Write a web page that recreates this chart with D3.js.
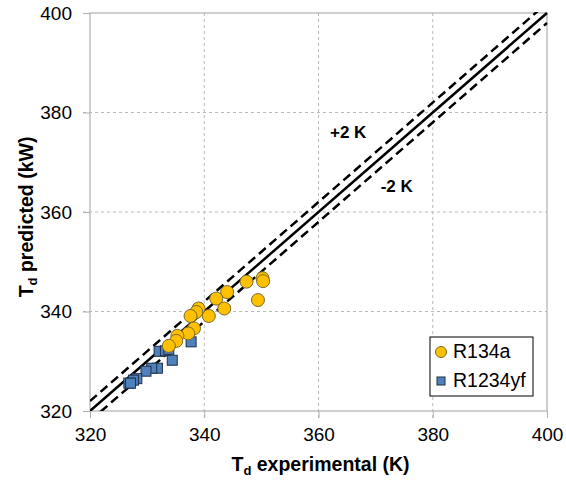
<!DOCTYPE html>
<html>
<head>
<meta charset="utf-8">
<script src="https://cdn.jsdelivr.net/npm/d3@7"></script>
<style>
  body { margin: 0; background: #fff; }
  svg text { font-family: "Liberation Sans", Arial, sans-serif; }
</style>
</head>
<body>
<div id="chart"></div>
<script>
// ---- data ----
const xTicks = [320, 340, 360, 380, 400];
const yTicks = [320, 340, 360, 380, 400];

const r134aExp  = [350.2, 350.3, 347.4, 349.4, 344.0, 342.1, 343.5, 339.0, 338.6, 337.6, 340.8, 338.2, 337.2, 335.3, 335.1, 333.8];
const r134aPred = [346.7, 346.1, 346.0, 342.3, 343.9, 342.6, 340.6, 340.6, 339.9, 339.1, 339.1, 336.6, 335.6, 335.1, 334.1, 333.1];

const r1234yfExp  = [337.7, 332.1, 333.2, 333.8, 334.4, 331.8, 330.8, 329.8, 328.2, 327.6, 326.8, 327.1];
const r1234yfPred = [333.9, 332.0, 332.1, 332.4, 330.2, 328.6, 328.6, 328.0, 326.5, 326.2, 325.6, 325.6];

// parity line and +/- 2 K band, label anchor in data units
const bands = [
  { offset: 2,  label: '+2 K', lx: 365.2, ly: 374.9, dash: '9,5' },
  { offset: 0,  label: null,   lx: 0,     ly: 0,     dash: null },
  { offset: -2, label: '-2 K', lx: 373.7, ly: 364.0, dash: '9,5' }
];

const width = 566, height = 481;
const margin = { left: 90, right: 19, top: 13, bottom: 70 };

const svg = d3.select('#chart').append('svg')
	.attr('width', width)
	.attr('height', height);

const x = d3.scaleLinear().domain([320, 400]).range([margin.left, width - margin.right]);
const y = d3.scaleLinear().domain([320, 400]).range([height - margin.bottom, margin.top]);

// gridlines
const grid = svg.append('g').attr('class', 'grid');
grid.selectAll('line.v')
		.data(xTicks.slice(1, -1))
	.enter().append('line')
		.attr('x1', d => x(d)).attr('x2', d => x(d))
		.attr('y1', y(400)).attr('y2', y(320) + 7)
		.attr('stroke', '#b8b8b8')
		.attr('stroke-dasharray', '3,3');
grid.selectAll('line.h')
		.data(yTicks.slice(1, -1))
	.enter().append('line')
		.attr('x1', x(320) - 7).attr('x2', x(400))
		.attr('y1', d => y(d)).attr('y2', d => y(d))
		.attr('stroke', '#b8b8b8')
		.attr('stroke-dasharray', '3,3');

// frame
svg.append('rect')
	.attr('x', x(320)).attr('y', y(400))
	.attr('width', x(400) - x(320)).attr('height', y(320) - y(400))
	.attr('fill', 'none')
	.attr('stroke', '#b0b0b0')
	.attr('stroke-width', 1.2);

// axes (labels + outer ticks)
const xAxis = svg.append('g')
	.attr('transform', 'translate(0,' + y(320) + ')')
	.call(d3.axisBottom(x).tickValues(xTicks).tickSize(7).tickPadding(10).tickFormat(d3.format('d')));
const yAxis = svg.append('g')
	.attr('transform', 'translate(' + x(320) + ',0)')
	.call(d3.axisLeft(y).tickValues(yTicks).tickSize(7).tickPadding(11).tickFormat(d3.format('d')));
[xAxis, yAxis].forEach(a => {
	a.select('.domain').remove();
	a.selectAll('line').attr('stroke', '#b0b0b0');
	a.selectAll('text').attr('fill', '#000').style('font-size', '19px');
});

// y = x and +/- 2 K lines, clipped to the plot area
svg.append('clipPath').attr('id', 'plotclip')
	.append('rect')
	.attr('x', x(320)).attr('y', y(400) - 1)
	.attr('width', x(400) - x(320) + 1).attr('height', y(320) - y(400) + 1);

const lineGen = d3.line().x(d => x(d[0])).y(d => y(d[1]));
svg.append('g').attr('clip-path', 'url(#plotclip)')
	.selectAll('path')
		.data(bands)
	.enter().append('path')
		.attr('d', b => lineGen([[320, 320 + b.offset], [400, 400 + b.offset]]))
		.attr('fill', 'none')
		.attr('stroke', '#000')
		.attr('stroke-width', 2.5)
		.attr('stroke-dasharray', b => b.dash);

// band labels
svg.append('g').selectAll('text')
		.data(bands.filter(b => b.label))
	.enter().append('text')
		.attr('x', b => x(b.lx)).attr('y', b => y(b.ly))
		.attr('text-anchor', 'middle')
		.style('font-size', '17px').style('font-weight', 'bold')
		.text(b => b.label);

// points
const sq = 10;
svg.append('g').selectAll('rect')
		.data(d3.zip(r1234yfExp, r1234yfPred))
	.enter().append('rect')
		.attr('x', d => x(d[0]) - sq / 2)
		.attr('y', d => y(d[1]) - sq / 2)
		.attr('width', sq).attr('height', sq)
		.attr('fill', '#4f81bd')
		.attr('stroke', '#1f2f45')
		.attr('stroke-width', 1);

svg.append('g').selectAll('circle')
		.data(d3.zip(r134aExp, r134aPred))
	.enter().append('circle')
		.attr('cx', d => x(d[0]))
		.attr('cy', d => y(d[1]))
		.attr('r', 6.5)
		.attr('fill', '#ffc000')
		.attr('stroke', '#7a6a30')
		.attr('stroke-width', 1);

// legend
const lg = svg.append('g').attr('transform', 'translate(430,337)');
lg.append('rect')
	.attr('width', 103).attr('height', 59)
	.attr('fill', '#fff')
	.attr('stroke', '#000')
	.attr('stroke-width', 1);
lg.append('circle').attr('cx', 11).attr('cy', 15).attr('r', 5.5)
	.attr('fill', '#ffc000').attr('stroke', '#7a6a30');
lg.append('text').attr('x', 23).attr('y', 21).style('font-size', '19.5px').text('R134a');
lg.append('rect').attr('x', 7).attr('y', 40).attr('width', 8).attr('height', 8)
	.attr('fill', '#4f81bd').attr('stroke', '#1f2f45');
lg.append('text').attr('x', 23).attr('y', 50).style('font-size', '19.5px').text('R1234yf');

// axis titles
const xt = svg.append('text')
	.attr('x', (x(320) + x(400)) / 2 + 2).attr('y', 471)
	.attr('text-anchor', 'middle')
	.style('font-size', '19.5px').style('font-weight', 'bold');
xt.append('tspan').text('T');
xt.append('tspan').attr('dy', 4).style('font-size', '13px').text('d');
xt.append('tspan').attr('dy', -4).text(' experimental (K)');

const yt = svg.append('text')
	.attr('transform', 'translate(33,' + y(359) + ') rotate(-90)')
	.attr('text-anchor', 'middle')
	.style('font-size', '19.5px').style('font-weight', 'bold');
yt.append('tspan').text('T');
yt.append('tspan').attr('dy', 4).style('font-size', '13px').text('d');
yt.append('tspan').attr('dy', -4).text(' predicted (kW)');
</script>
</body>
</html>
